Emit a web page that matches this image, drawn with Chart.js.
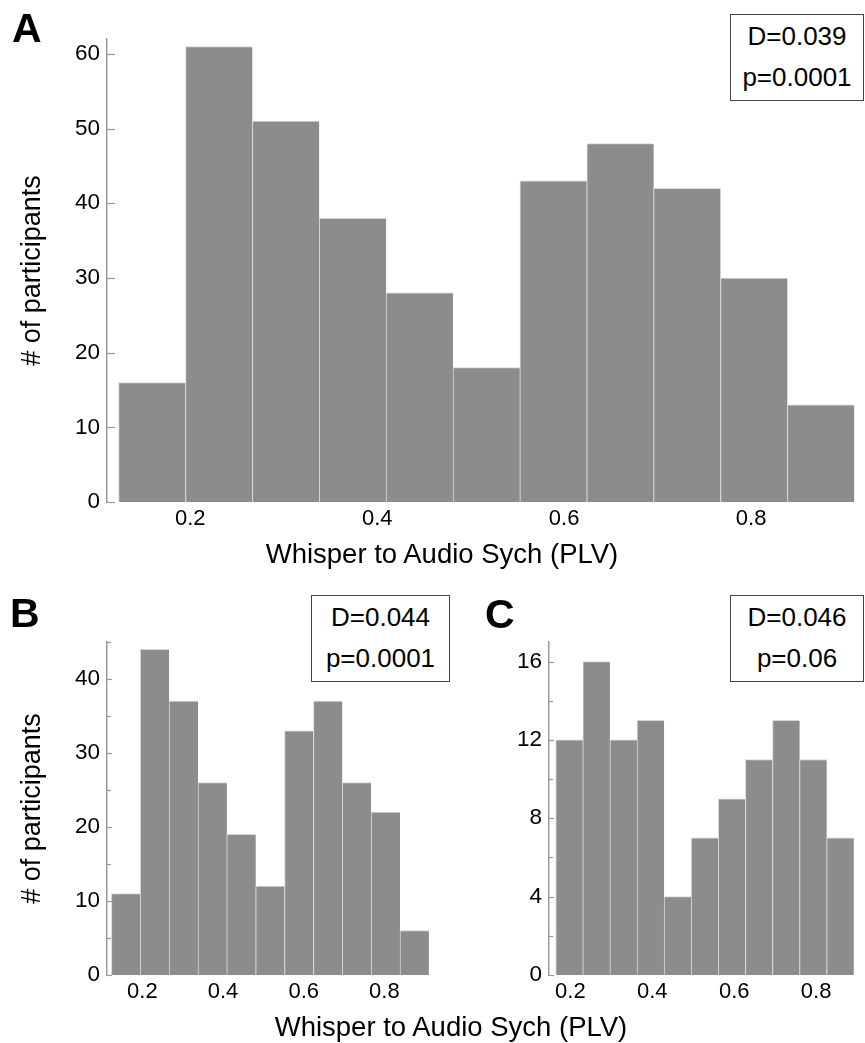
<!DOCTYPE html>
<html>
<head>
<meta charset="utf-8">
<script src="https://cdn.jsdelivr.net/npm/chart.js@4.4.1/dist/chart.umd.min.js"></script>
<style>
  body { margin: 0; background: #fff; width: 865px; height: 1043px; position: relative; overflow: hidden;
         font-family: "Liberation Sans", Arial, Helvetica, sans-serif; }
  canvas { position: absolute; }
  .lbl { position: absolute; font-weight: bold; font-size: 41px; line-height: 40px; color: #000; }
  .box { position: absolute; box-sizing: border-box; border: 1px solid #444; height: 87px; background: #fff;
         font-size: 26px; line-height: 41px; text-align: center; padding-top: 1px; color: #000; }
  .xt { position: absolute; font-size: 27.5px; line-height: 27px; white-space: nowrap; transform: translateX(-50%); color: #000; }
</style>
</head>
<body>
<canvas id="chartA" width="865" height="580" style="left:0;top:0"></canvas>
<canvas id="chartB" width="450" height="463" style="left:0;top:580px"></canvas>
<canvas id="chartC" width="415" height="463" style="left:450px;top:580px"></canvas>

<div class="lbl" style="left:12px;top:8px">A</div>
<div class="lbl" style="left:10px;top:593px">B</div>
<div class="lbl" style="left:485px;top:594px">C</div>

<div class="box" style="left:730px;top:14px;width:134px"><div>D=0.039</div><div>p=0.0001</div></div>
<div class="box" style="left:311px;top:595px;width:139px"><div>D=0.044</div><div>p=0.0001</div></div>
<div class="box" style="left:730px;top:595px;width:134px"><div>D=0.046</div><div>p=0.06</div></div>

<div class="xt" id="titleA" style="left:442px;top:540px"></div>
<div class="xt" id="titleBC" style="left:451px;top:1013px"></div>

<script>
// bin centres (PLV)
const binsAB = [0.1591, 0.2307, 0.3022, 0.3738, 0.4453, 0.5169, 0.5884, 0.6600, 0.7315, 0.8031, 0.8746];
const binsC = [0.1973, 0.2635, 0.3296, 0.3958, 0.4619, 0.5281, 0.5943, 0.6604, 0.7266, 0.7927, 0.8589];

const countsA = [16, 61, 51, 38, 28, 18, 43, 48, 42, 30, 13];
const countsB = [11, 44, 37, 26, 19, 12, 33, 37, 26, 22, 6];
const countsC = [12, 16, 12, 13, 4, 7, 9, 11, 13, 11, 7];

const xTickVals = [0.2, 0.4, 0.6, 0.8];
const yMajorA = [0, 10, 20, 30, 40, 50, 60];
const yMinorA = [];
const yMajorB = [0, 10, 20, 30, 40];
const yMinorB = [5, 15, 25, 35, 45];
const yMajorC = [0, 4, 8, 12, 16];
const yMinorC = [2, 6, 10, 14];

const xTitle = 'Whisper to Audio Sych (PLV)';
const yTitle = '# of participants';

const barColor = '#8c8c8c';
const edgeColor = '#d6d6d6';
const axisColor = '#9a9a9a';

document.getElementById('titleA').textContent = xTitle;
document.getElementById('titleBC').textContent = xTitle;

Chart.defaults.font.family = '"Liberation Sans", Arial, Helvetica, sans-serif';
Chart.defaults.color = '#000';

// ticks point into the plot, like the original
const inwardTicks = {
  id: 'inwardTicks',
  afterDatasetsDraw(chart, args, opts) {
    const y = chart.scales.y;
    const ctx = chart.ctx;
    const x0 = chart.chartArea.left;
    ctx.save();
    ctx.strokeStyle = axisColor;
    ctx.lineWidth = 1.2;
    y.ticks.forEach(t => {
      const py = Math.round(y.getPixelForValue(t.value)) + 0.5;
      const len = opts.major.includes(t.value) ? opts.majorLen : opts.minorLen;
      ctx.beginPath();
      ctx.moveTo(x0, py);
      ctx.lineTo(x0 + len, py);
      ctx.stroke();
    });
    ctx.restore();
  }
};

function makeHist(id, p) {
  const allTicks = p.major.concat(p.minor).sort((a, b) => a - b);
  return new Chart(document.getElementById(id), {
    type: 'bar',
    data: {
      datasets: [{
        data: p.bins.map((b, i) => ({ x: b, y: p.counts[i] })),
        backgroundColor: barColor,
        borderColor: edgeColor,
        borderWidth: { top: 1, left: 1, right: 0, bottom: 0 },
        borderSkipped: false,
        barPercentage: 1,
        categoryPercentage: 1
      }]
    },
    plugins: [inwardTicks],
    options: {
      responsive: false,
      animation: false,
      layout: { padding: p.pad },
      plugins: {
        legend: { display: false },
        tooltip: { enabled: false },
        inwardTicks: { major: p.major, majorLen: p.majorLen, minorLen: p.minorLen }
      },
      scales: {
        x: {
          type: 'linear',
          offset: false,
          min: p.xMin,
          max: p.xMax,
          grid: { display: false, drawTicks: false, offset: false },
          border: { display: false },
          afterBuildTicks: s => { s.ticks = xTickVals.map(v => ({ value: v })); },
          afterFit: s => { s.height = p.xH; },
          ticks: {
            autoSkip: false,
            maxRotation: 0,
            padding: 6,
            font: { size: 22, lineHeight: 1 },
            callback: v => v.toFixed(1)
          }
        },
        y: {
          min: 0,
          max: p.yMax,
          grid: { display: false, drawTicks: false },
          border: { display: true, color: axisColor, width: 1.5 },
          afterBuildTicks: s => { s.ticks = allTicks.map(v => ({ value: v })); },
          afterFit: s => { s.width = p.yW; },
          ticks: {
            autoSkip: false,
            padding: 7,
            font: { size: 22.5, lineHeight: 1 },
            callback: v => (p.major.includes(v) ? String(v) : '')
          },
          title: {
            display: !!p.yTitle,
            text: p.yTitle || '',
            font: { size: 27, lineHeight: 1 },
            padding: { top: 19, bottom: 0 }
          }
        }
      }
    }
  });
}

makeHist('chartA', {
  bins: binsAB, counts: countsA, major: yMajorA, minor: yMinorA,
  xMin: 0.1109, xMax: 0.9133, yMax: 62,
  pad: { left: 0, top: 39, right: 8, bottom: 0 }, yW: 107, xH: 78,
  majorLen: 8, minorLen: 5, yTitle: yTitle
});

makeHist('chartB', {
  bins: binsAB, counts: countsB, major: yMajorB, minor: yMinorB,
  xMin: 0.1124, xMax: 0.9181, yMax: 45,
  pad: { left: 0, top: 62, right: 18, bottom: 0 }, yW: 107, xH: 68,
  majorLen: 5, minorLen: 4, yTitle: yTitle
});

makeHist('chartC', {
  bins: binsC, counts: countsC, major: yMajorC, minor: yMinorC,
  xMin: 0.1478, xMax: 0.8998, yMax: 17,
  pad: { left: 0, top: 62, right: 8, bottom: 0 }, yW: 99, xH: 68,
  majorLen: 5, minorLen: 4, yTitle: null
});
</script>
</body>
</html>
